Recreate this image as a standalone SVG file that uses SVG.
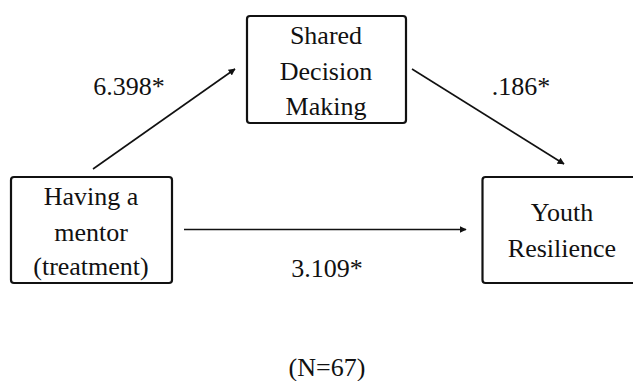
<svg xmlns="http://www.w3.org/2000/svg" width="633" height="381" viewBox="0 0 633 381">
<style>
.box{fill:#fff;stroke:#111;stroke-width:2.2}
.t{font-family:'Liberation Serif','DejaVu Serif','Noto Serif',serif;font-size:26px;fill:#111;text-anchor:middle}
.c{stroke:#111;stroke-width:1.6;fill:none;marker-end:url(#ah)}
</style>
<defs>
<marker id="ah" viewBox="0 0 10 10" refX="9" refY="5" markerWidth="7" markerHeight="7" markerUnits="userSpaceOnUse" orient="auto">
<path d="M0,0 L10,5 L0,10 z" fill="#111"/>
</marker>
</defs>
<rect width="633" height="381" fill="#fff"/>
<g id="connectors">
<line class="c" x1="93" y1="169" x2="235" y2="69"/>
<line class="c" x1="412" y1="69" x2="564" y2="164"/>
<line class="c" x1="184" y1="229.5" x2="466" y2="229.5"/>
</g>
<g id="shared">
<rect class="box" x="247" y="16" width="159" height="107" rx="3"/>
<text class="t" x="326" y="44">Shared</text>
<text class="t" x="326" y="80">Decision</text>
<text class="t" x="326" y="115">Making</text>
</g>
<g id="mentor">
<rect class="box" x="11" y="177" width="161" height="106" rx="3"/>
<text class="t" x="91" y="205">Having a</text>
<text class="t" x="91" y="241">mentor</text>
<text class="t" x="91" y="275">(treatment)</text>
</g>
<g id="resilience">
<rect class="box" x="482.5" y="177" width="160" height="106" rx="3"/>
<text class="t" x="562" y="221">Youth</text>
<text class="t" x="562" y="257">Resilience</text>
</g>
<g id="labels">
<text class="t" x="129" y="95">6.398*</text>
<text class="t" x="521" y="95">.186*</text>
<text class="t" x="327" y="277">3.109*</text>
<text class="t" x="327" y="376">(N=67)</text>
</g>
</svg>
